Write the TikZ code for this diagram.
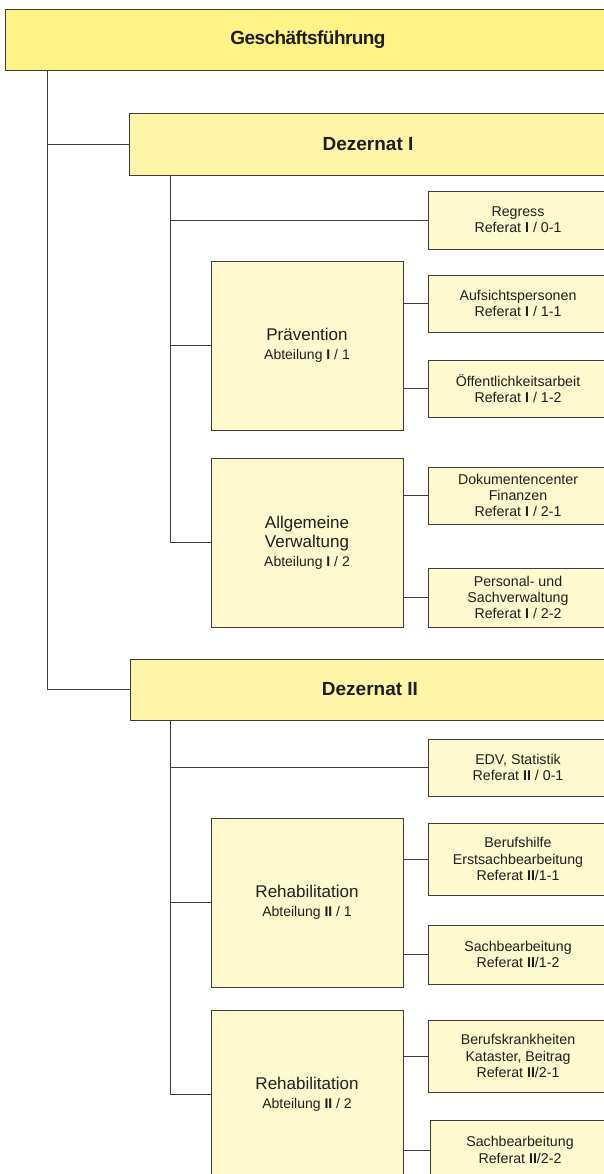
\documentclass[tikz,border=0pt]{standalone}
\usepackage{fontspec}
\setmainfont{Liberation Sans}
\newfontfamily\titlefont[LetterSpace=-3]{Liberation Sans}
\definecolor{gfyellow}{HTML}{FFF388}
\definecolor{dzyellow}{HTML}{FFF5A8}
\definecolor{abyellow}{HTML}{FFF9CF}
\definecolor{frame}{HTML}{3C3C3C}
\newcommand\abtsub{\fontsize{14}{16.5}\selectfont}

\begin{document}
\begin{tikzpicture}[x=1pt,y=-1pt,
  box/.style={draw=frame,line width=.8pt,inner sep=0pt,align=center,text=black!88},
  gf/.style={box,fill=gfyellow,font=\titlefont\fontsize{19}{22}\selectfont\bfseries},
  dz/.style={box,fill=dzyellow,font=\fontsize{19}{22}\selectfont\bfseries},
  abt/.style={box,fill=abyellow,minimum width=192,minimum height=169,font=\fontsize{17}{19}\selectfont},
  refbox/.style={box,fill=abyellow,minimum width=180,font=\fontsize{14.2}{16.3}\selectfont},
  conn/.style={draw=frame,line width=.8pt}]
		\useasboundingbox (0,0) rectangle (604,1174);
		
		\node[gf,minimum width=606,minimum height=61] (gf) at (308,39.5) {Geschäftsführung};
		
		% Dezernat I
		\node[dz,minimum width=478,minimum height=62] (d1) at (368,144) {Dezernat I};
		\node[refbox,minimum height=58] (r01) at (518,220) {Regress\\Referat \textbf{I} / 0-1};
		\node[abt] (a1) at (307,345.5) {Prävention\\{\abtsub Abteilung \textbf{I} / 1}};
		\node[refbox,minimum height=57] (r11) at (518,303.5) {Aufsichtspersonen\\Referat \textbf{I} / 1-1};
		\node[refbox,minimum height=57] (r12) at (518,388.5) {Öffentlichkeitsarbeit\\Referat \textbf{I} / 1-2};
		\node[abt] (a2) at (307,542.5) {Allgemeine\\Verwaltung\\{\abtsub Abteilung \textbf{I} / 2}};
		\node[refbox,minimum height=57] (r21) at (518,495.5) {Dokumentencenter\\Finanzen\\Referat \textbf{I} / 2-1};
		\node[refbox,minimum height=59] (r22) at (518,597.5) {Personal- und\\Sachverwaltung\\Referat \textbf{I} / 2-2};
		
		% Dezernat II
		\node[dz,minimum width=480,minimum height=61] (d2) at (370,689.5) {Dezernat II};
		\node[refbox,minimum height=57] (r201) at (518,767.5) {EDV, Statistik\\Referat \textbf{II} / 0-1};
		\node[abt] (a3) at (307,902.5) {Rehabilitation\\{\abtsub Abteilung \textbf{II} / 1}};
		\node[refbox,minimum height=72] (r211) at (518,859) {Berufshilfe\\Erstsachbearbeitung\\Referat \textbf{II}/1-1};
		\node[refbox,minimum height=59] (r212) at (518,954.5) {Sachbearbeitung\\Referat \textbf{II}/1-2};
		\node[abt] (a4) at (307,1094.5) {Rehabilitation\\{\abtsub Abteilung \textbf{II} / 2}};
		\node[refbox,minimum height=72] (r221) at (518,1056) {Berufskrankheiten\\Kataster, Beitrag\\Referat \textbf{II}/2-1};
		\node[refbox,minimum height=60] (r222) at (520,1150) {Sachbearbeitung\\Referat \textbf{II}/2-2};
		
		\coordinate (gfspine) at (47,70);
		\coordinate (d1spine) at (170,175);
		\coordinate (d2spine) at (170,720);
		
		\draw[conn] (gfspine) |- (d1.west);
		\draw[conn] (gfspine) |- (d2.west);
		\draw[conn] (d1spine) |- (r01.west);
		\draw[conn] (d1spine) |- (a1.west);
		\draw[conn] (d1spine) |- (a2.west);
		\draw[conn] (d2spine) |- (r201.west);
		\draw[conn] (d2spine) |- (a3.west);
		\draw[conn] (d2spine) |- (a4.west);
		\draw[conn] (a1.east |- r11.west) -- (r11.west);
		\draw[conn] (a1.east |- r12.west) -- (r12.west);
		\draw[conn] (a2.east |- r21.west) -- (r21.west);
		\draw[conn] (a2.east |- r22.west) -- (r22.west);
		\draw[conn] (a3.east |- r211.west) -- (r211.west);
		\draw[conn] (a3.east |- r212.west) -- (r212.west);
		\draw[conn] (a4.east |- r221.west) -- (r221.west);
		\draw[conn] (a4.east |- r222.west) -- (r222.west);
\end{tikzpicture}
\end{document}
